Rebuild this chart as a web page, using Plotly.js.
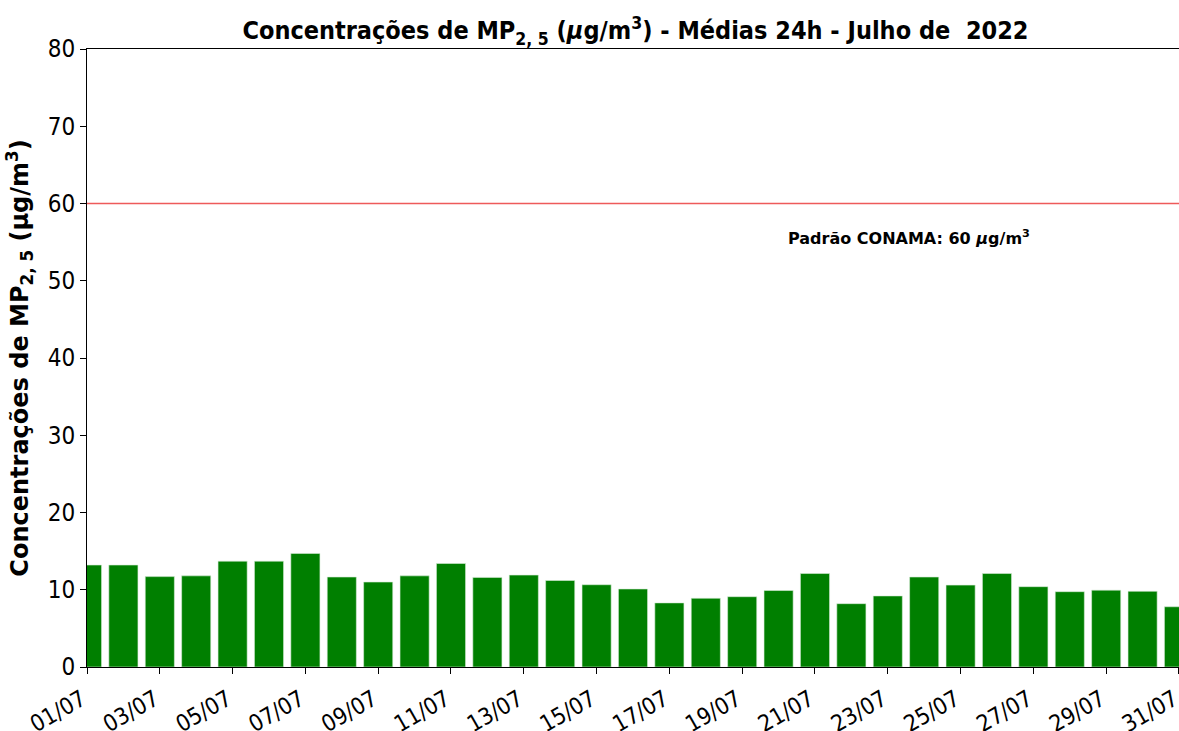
<!DOCTYPE html>
<html><head><meta charset="utf-8">
<script src="https://cdn.plot.ly/plotly-3.0.1.min.js"></script>
<style>html,body{margin:0;padding:0;background:#fff}#chart{width:1179px;height:731px}</style>
</head><body><div id="chart"></div>
<script>
const dates = ["2022-07-01","2022-07-02","2022-07-03","2022-07-04","2022-07-05","2022-07-06","2022-07-07","2022-07-08","2022-07-09","2022-07-10","2022-07-11","2022-07-12","2022-07-13","2022-07-14","2022-07-15","2022-07-16","2022-07-17","2022-07-18","2022-07-19","2022-07-20","2022-07-21","2022-07-22","2022-07-23","2022-07-24","2022-07-25","2022-07-26","2022-07-27","2022-07-28","2022-07-29","2022-07-30","2022-07-31"];
const values = [13.2,13.2,11.7,11.8,13.7,13.7,14.7,11.65,11.0,11.8,13.4,11.6,11.9,11.2,10.65,10.1,8.3,8.9,9.1,9.9,12.1,8.2,9.2,11.65,10.6,12.1,10.4,9.75,9.95,9.8,7.8];
const tickDates = ["2022-07-01","2022-07-03","2022-07-05","2022-07-07","2022-07-09","2022-07-11","2022-07-13","2022-07-15","2022-07-17","2022-07-19","2022-07-21","2022-07-23","2022-07-25","2022-07-27","2022-07-29","2022-07-31"];
const tickLabels = ["01/07","03/07","05/07","07/07","09/07","11/07","13/07","15/07","17/07","19/07","21/07","23/07","25/07","27/07","29/07","31/07"];
const xRange = ['2022-07-01', '2022-07-31 00:01'];
const limitValue = 60;
const limitLabel = "Padrão CONAMA: 60 <i>μ</i>g/m<sup>3</sup>";
const titleText = "Concentrações de MP<sub>2, 5</sub> (<i>μ</i>g/m<sup>3</sup>) - Médias 24h - Julho de  2022";
const yTitleText = "Concentrações de MP<sub>2, 5</sub> (μg/m<sup>3</sup>)";

const DAY = 86400000;
const FONT = 'DejaVu Sans Condensed, DejaVu Sans';
const bars = {
  type: 'bar', x: dates, y: values,
  width: dates.map(() => 0.8 * DAY),
  marker: {color: '#007f00', line: {width: 0.6, color: '#d8ecd8'}},
  hoverinfo: 'x+y'
};
const limitLine = {
  type: 'scatter', mode: 'lines', x: xRange, y: [limitValue, limitValue],
  line: {color: '#ee5a5a', width: 1.6}, hoverinfo: 'skip', cliponaxis: false
};
const layout = {
  width: 1179, height: 731,
  margin: {l: 87, r: 0, t: 49, b: 64},
  paper_bgcolor: '#fff', plot_bgcolor: '#fff',
  font: {family: FONT, color: '#000'},
  showlegend: false,
  title: {text: titleText, font: {family: FONT, size: 25, weight: 'bold', color: '#000'}, x: 0.539, xanchor: 'center', y: 0.958, yanchor: 'middle'},
  xaxis: {
    type: 'date', range: xRange,
    tickmode: 'array', tickvals: tickDates, ticktext: tickLabels,
    tickangle: -30, tickfont: {family: FONT, size: 23, color: '#000'},
    ticklabeloverflow: 'allow', ticklabelshift: -5, ticklabelstandoff: 3,
    ticks: 'outside', ticklen: 6, tickwidth: 1, tickcolor: '#000',
    showgrid: false, zeroline: false,
    showline: true, linecolor: '#000', linewidth: 1, mirror: true
  },
  yaxis: {
    range: [0, 80], tickvals: [0,10,20,30,40,50,60,70,80],
    tickfont: {family: FONT, size: 24, color: '#000'},
    ticks: 'outside', ticklen: 6, tickwidth: 1, tickcolor: '#000',
    showgrid: false, zeroline: false,
    showline: true, linecolor: '#000', linewidth: 1,
    title: {text: yTitleText, font: {family: 'DejaVu Sans', size: 24, weight: 'bold', color: '#000'}, standoff: 12}
  },
  annotations: [{
    xref: 'x', yref: 'y', x: '2022-07-20 05:00', y: 55.6, xanchor: 'left', yanchor: 'middle',
    text: limitLabel, showarrow: false, font: {family: 'DejaVu Sans', size: 16, weight: 'bold', color: '#000'}
  }]
};
Plotly.newPlot('chart', [bars, limitLine], layout, {displayModeBar: false, staticPlot: true});
</script></body></html>
